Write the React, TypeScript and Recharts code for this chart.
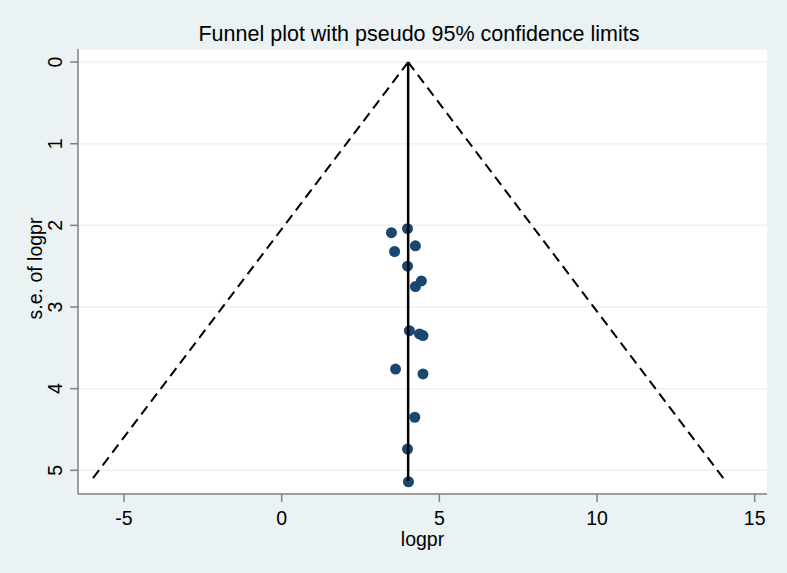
import { ScatterChart, Scatter, XAxis, YAxis, CartesianGrid } from 'recharts';

// study estimates: logpr (x) and its standard error (y)
const logpr = [3.48, 3.99, 4.24, 3.58, 3.99, 4.43, 4.24, 4.05, 4.37, 4.48, 3.61, 4.48, 4.22, 3.99, 4.02];
const seLogpr = [2.09, 2.04, 2.25, 2.32, 2.5, 2.68, 2.75, 3.29, 3.33, 3.35, 3.76, 3.82, 4.35, 4.74, 5.14];

// pooled estimate line and the pseudo 95% limits (end points)
const pooledLine = [
  { x: 4.01, y: 0 },
  { x: 4.01, y: 5.13 },
];
const lowerLimit = [
  { x: 4.01, y: 0 },
  { x: -6.05, y: 5.13 },
];
const upperLimit = [
  { x: 4.01, y: 0 },
  { x: 14.07, y: 5.13 },
];

const xTicks = [-5, 0, 5, 10, 15];
const yTicks = [0, 1, 2, 3, 4, 5];

const studies = logpr.map((x, i) => ({ x, y: seLogpr[i] }));

const FONT = '"Liberation Sans", Arial, Helvetica, sans-serif';
const BG = '#EAF2F3';
const LABEL_SIZE = 19.5;

const NoDot = () => null;

const YTick = ({ x, y, payload }: any) => (
  <text
    x={x - 6}
    y={y}
    transform={`rotate(-90, ${x - 6}, ${y})`}
    textAnchor="middle"
    fontSize={LABEL_SIZE}
    fontFamily={FONT}
    fill="#000"
  >
    {payload.value}
  </text>
);

const YLabel = ({ viewBox }: any) => {
  const cx = viewBox.x + 42;
  const cy = viewBox.y + viewBox.height / 2 - 3;
  return (
    <text
      x={cx}
      y={cy}
      transform={`rotate(-90, ${cx}, ${cy})`}
      textAnchor="middle"
      fontSize={LABEL_SIZE}
      fontFamily={FONT}
      fill="#000"
    >
      s.e. of logpr
    </text>
  );
};

export default function App() {
  return (
    <div style={{ position: 'absolute', left: 0, top: 0, width: 787, height: 573, background: BG }}>
      <div
        style={{
          position: 'absolute',
          left: 69,
          width: 700,
          top: 22,
          textAlign: 'center',
          fontFamily: FONT,
          fontSize: 21.5,
          color: '#000',
          whiteSpace: 'nowrap',
        }}
      >
        Funnel plot with pseudo 95% confidence limits
      </div>
      <ScatterChart width={787} height={573} margin={{ top: 49, right: 20, bottom: 29, left: 0 }}>
        <CartesianGrid vertical={false} stroke={BG} strokeWidth={1.5} fill="#fff" />
        <XAxis
          type="number"
          dataKey="x"
          domain={[-6.46, 15.39]}
          ticks={xTicks}
          allowDataOverflow
          height={50}
          stroke="#808080"
          strokeWidth={1.5}
          tickSize={8}
          tickMargin={9}
          tick={{ fill: '#000', fontSize: LABEL_SIZE, fontFamily: FONT }}
          label={{ value: 'logpr', position: 'insideTop', offset: 38, fill: '#000', fontSize: LABEL_SIZE, fontFamily: FONT }}
        />
        <YAxis
          type="number"
          dataKey="y"
          reversed
          domain={[-0.16, 5.29]}
          ticks={yTicks}
          allowDataOverflow
          width={78}
          stroke="#808080"
          strokeWidth={1.5}
          tickSize={8}
          tickMargin={2}
          tick={<YTick />}
          label={<YLabel />}
        />
        <Scatter data={studies} fill="#1A476F" isAnimationActive={false} shape={(p: any) => <circle cx={p.cx} cy={p.cy} r={5.5} fill="#1A476F" />} />
        <Scatter data={pooledLine} line={{ stroke: '#000', strokeWidth: 2.5 }} shape={NoDot} isAnimationActive={false} />
        <Scatter data={lowerLimit} line={{ stroke: '#000', strokeWidth: 2, strokeDasharray: '10 6' }} shape={NoDot} isAnimationActive={false} />
        <Scatter data={upperLimit} line={{ stroke: '#000', strokeWidth: 2, strokeDasharray: '10 6' }} shape={NoDot} isAnimationActive={false} />
      </ScatterChart>
    </div>
  );
}
